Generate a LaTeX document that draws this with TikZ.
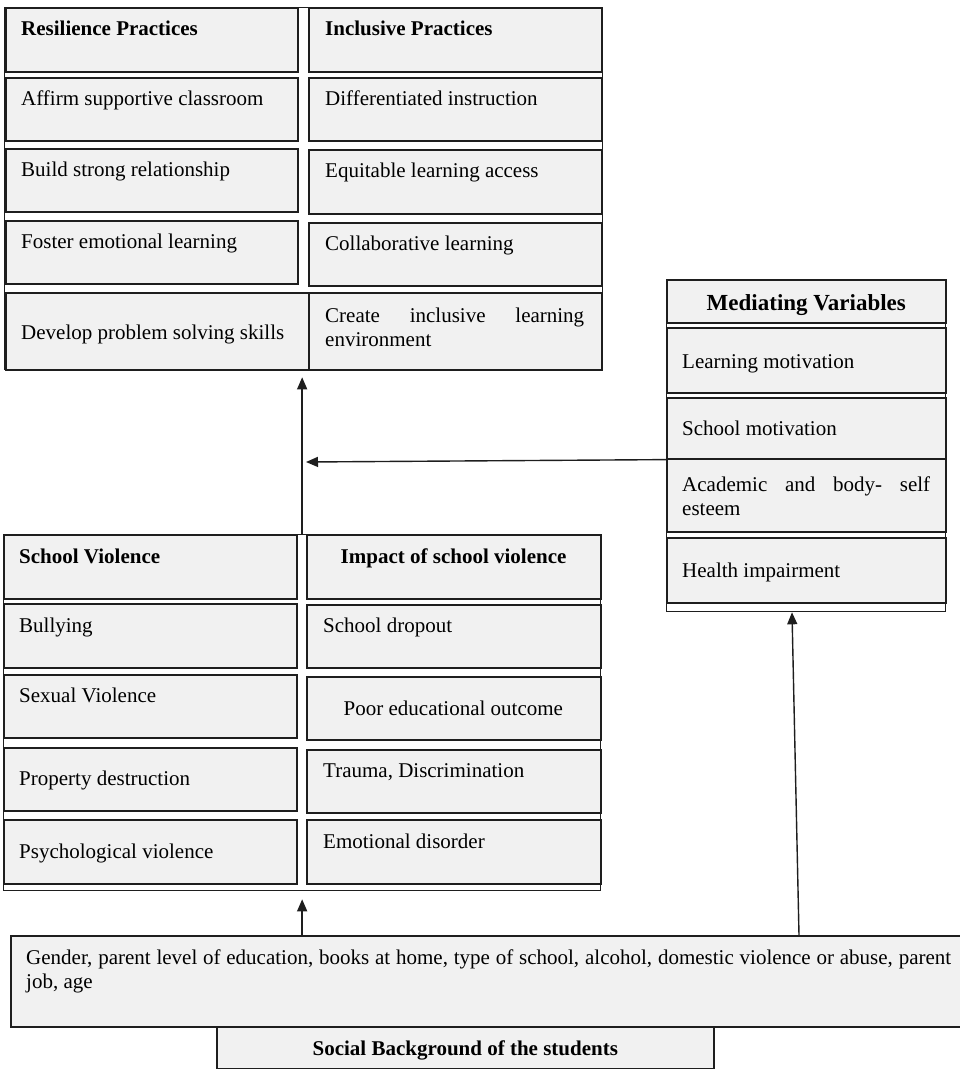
\documentclass[tikz,border=0pt]{standalone}
\usepackage{fontspec}
\setmainfont{Liberation Serif}
\usetikzlibrary{arrows.meta,calc}
\definecolor{linec}{RGB}{30,30,30}
\definecolor{cellfill}{RGB}{241,241,241}
\begin{document}
\begin{tikzpicture}[x=1pt,y=-1pt,
  cell/.style={draw=linec, line width=1.6pt, fill=cellfill, inner sep=0pt, anchor=north west},
  outerbox/.style={draw=linec, line width=1.3pt, inner sep=0pt, anchor=north west},
  txt/.style={inner sep=0pt, anchor=base west, font=\fontsize{21}{24}\selectfont},
  hd/.style={inner sep=0pt, anchor=base west, font=\fontsize{21}{24}\selectfont\bfseries},
  arr/.style={draw=linec, line width=1.4pt, -{Triangle[length=12pt,width=10pt]}},
]
\useasboundingbox (0,0) rectangle (960,1069);

% ---------- top block ----------
\node[cell, minimum width=292, minimum height=64] (r1) at (5,7) {};
\node[cell, minimum width=292, minimum height=63] (r2) at (5,77) {};
\node[cell, minimum width=292, minimum height=63] (r3) at (5,148) {};
\node[cell, minimum width=292, minimum height=63] (r4) at (5,220) {};
\node[cell, minimum width=303, minimum height=77] (r5) at (5,292) {};
\node[cell, minimum width=293, minimum height=64] (i1) at (308,7) {};
\node[cell, minimum width=293, minimum height=63] (i2) at (308,77) {};
\node[cell, minimum width=293, minimum height=64] (i3) at (308,149) {};
\node[cell, minimum width=293, minimum height=63] (i4) at (308,222) {};
\node[cell, minimum width=293, minimum height=77] (i5) at (308,292) {};
\node[outerbox, minimum width=598, minimum height=362] (topbox) at (4,7) {};

\node[hd]  (r1t) at ([shift={(16,28)}]r1.north west) {Resilience Practices};
\node[txt] (r2t) at ([shift={(16,28)}]r2.north west) {Affirm supportive classroom};
\node[txt] (r3t) at ([shift={(16,28)}]r3.north west) {Build strong relationship};
\node[txt] (r4t) at ([shift={(16,28)}]r4.north west) {Foster emotional learning};
\node[txt] (r5t) at ([shift={(16,47)}]r5.north west) {Develop problem solving skills};
\node[hd]  (i1t) at ([shift={(17,28)}]i1.north west) {Inclusive Practices};
\node[txt] (i2t) at ([shift={(17,28)}]i2.north west) {Differentiated instruction};
\node[txt] (i3t) at ([shift={(17,28)}]i3.north west) {Equitable learning access};
\node[txt] (i4t) at ([shift={(17,28)}]i4.north west) {Collaborative learning};
\node[txt] (i5t) at ([shift={(17,30)}]i5.north west) {\makebox[259pt][s]{Create inclusive learning}};
\node[txt] (i5u) at ([shift={(17,54)}]i5.north west) {environment};

% ---------- mediating block ----------
\node[cell, minimum width=279, minimum height=43] (m0) at (666,279) {};
\node[cell, minimum width=279, minimum height=65] (m1) at (666,327) {};
\node[cell, minimum width=279, minimum height=61] (m2) at (666,397) {};
\node[cell, minimum width=279, minimum height=73] (m3) at (666,458) {};
\node[cell, minimum width=279, minimum height=65] (m4) at (666,537) {};
\node[outerbox, minimum width=279, minimum height=332] (mv) at (666,279) {};

\node[inner sep=0pt, anchor=base, font=\fontsize{23}{26}\selectfont\bfseries] (m0t) at ([shift={(0,31)}]m0.north) {Mediating Variables};
\node[txt] (m1t) at ([shift={(16,41)}]m1.north west) {Learning motivation};
\node[txt] (m2t) at ([shift={(16,38)}]m2.north west) {School motivation};
\node[txt] (m3t) at ([shift={(16,33)}]m3.north west) {\makebox[248pt][s]{Academic and body- self}};
\node[txt] (m3u) at ([shift={(16,57)}]m3.north west) {esteem};
\node[txt] (m4t) at ([shift={(16,40)}]m4.north west) {Health impairment};

% ---------- school violence block ----------
\node[cell, minimum width=293, minimum height=64] (s1) at (3,534) {};
\node[cell, minimum width=293, minimum height=64] (s2) at (3,603) {};
\node[cell, minimum width=293, minimum height=63] (s3) at (3,674) {};
\node[cell, minimum width=293, minimum height=63] (s4) at (3,747) {};
\node[cell, minimum width=293, minimum height=64] (s5) at (3,819) {};
\node[cell, minimum width=294, minimum height=64] (p1) at (306,534) {};
\node[cell, minimum width=294, minimum height=63] (p2) at (306,604) {};
\node[cell, minimum width=294, minimum height=63] (p3) at (306,676) {};
\node[cell, minimum width=294, minimum height=63] (p4) at (306,749) {};
\node[cell, minimum width=294, minimum height=64] (p5) at (306,819) {};
\node[outerbox, minimum width=597, minimum height=356] (svbox) at (3,534) {};

\node[hd]  (s1t) at ([shift={(16,29)}]s1.north west) {School Violence};
\node[txt] (s2t) at ([shift={(16,29)}]s2.north west) {Bullying};
\node[txt] (s3t) at ([shift={(16,28)}]s3.north west) {Sexual Violence};
\node[txt] (s4t) at ([shift={(16,38)}]s4.north west) {Property destruction};
\node[txt] (s5t) at ([shift={(16,39)}]s5.north west) {Psychological violence};
\node[hd]  (p1t) at ([shift={(34.5,29)}]p1.north west) {Impact of school violence};
\node[txt] (p2t) at ([shift={(17,28)}]p2.north west) {School dropout};
\node[txt] (p3t) at ([shift={(37.5,39)}]p3.north west) {Poor educational outcome};
\node[txt] (p4t) at ([shift={(17,28)}]p4.north west) {Trauma, Discrimination};
\node[txt] (p5t) at ([shift={(17,29)}]p5.north west) {Emotional disorder};

% ---------- social background ----------
\node[cell, minimum width=970, minimum height=91] (sb) at (10,935) {};
\node[cell, minimum width=497, minimum height=42] (sbl) at (216,1026) {};
\node[txt] (sbt) at ([shift={(16,29)}]sb.north west) {\makebox[925pt][s]{Gender, parent level of education, books at home, type of school, alcohol, domestic violence or abuse, parent}};
\node[txt] (sbu) at ([shift={(16,53)}]sb.north west) {job, age};
\node[inner sep=0pt, anchor=base, font=\fontsize{21}{24}\selectfont\bfseries] (sblt) at ([shift={(0,29)}]sbl.north) {Social Background of the students};

% ---------- connectors ----------
\coordinate (hEnd) at (306,462);
\draw[arr, shorten >=7pt] (svbox.north) -- (svbox.north |- topbox.south);
\draw[arr] (m2.south west) -- (hEnd);
\draw[arr, shorten >=8pt] (sb.north -| svbox.north) -- (svbox.south);
\draw[arr] ($(sb.north west)+(789,0)$) -- ($(mv.south west)+(126,0)$);
\end{tikzpicture}
\end{document}
